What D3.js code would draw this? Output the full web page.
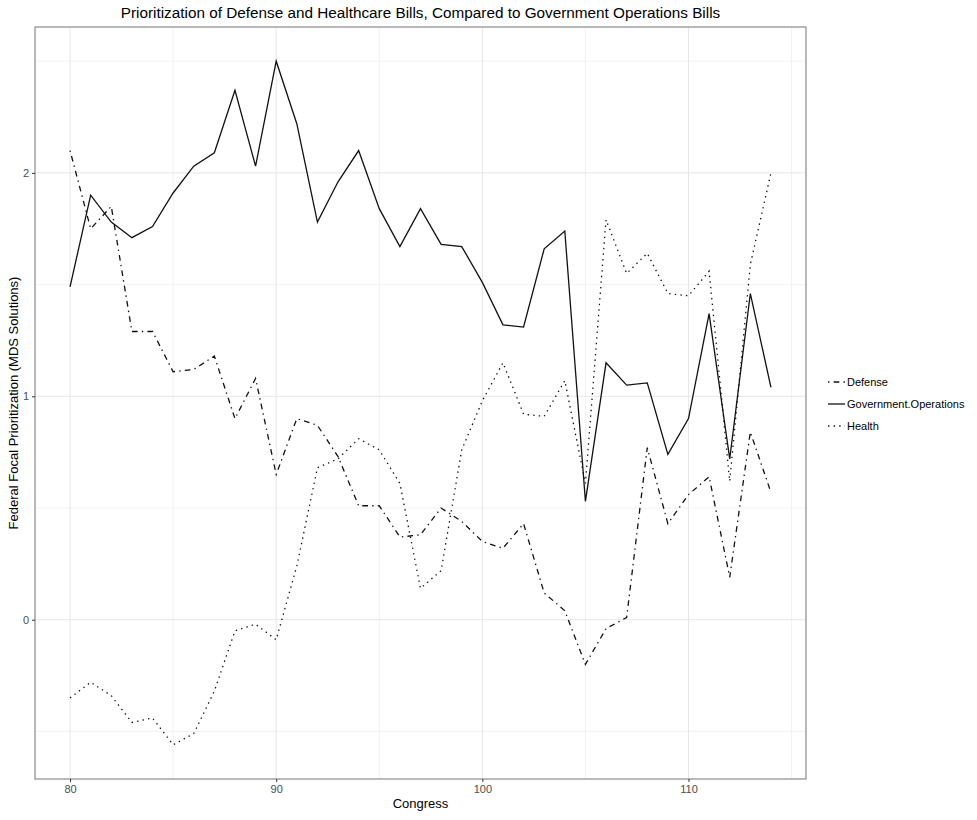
<!DOCTYPE html>
<html>
<head>
<meta charset="utf-8">
<script src="https://cdn.jsdelivr.net/npm/d3@7"></script>
<style>
  body { margin: 0; background: #fff; }
  svg text { font-family: "Liberation Sans", Arial, sans-serif; }
</style>
</head>
<body>
<svg id="chart" width="977" height="820"></svg>
<script>
// congress numbers on the x axis
var congress = [80, 81, 82, 83, 84, 85, 86, 87, 88, 89, 90, 91, 92, 93, 94, 95, 96, 97,
  98, 99, 100, 101, 102, 103, 104, 105, 106, 107, 108, 109, 110, 111, 112, 113, 114];

// MDS solutions
var defense = [2.10, 1.75, 1.85, 1.29, 1.29, 1.11, 1.12, 1.18, 0.90, 1.08, 0.65,
  0.90, 0.87, 0.73, 0.51, 0.51, 0.37, 0.38, 0.50, 0.44, 0.35,
  0.32, 0.43, 0.12, 0.04, -0.20, -0.04, 0.01, 0.77, 0.43, 0.56,
  0.64, 0.19, 0.84, 0.57];
var govOps = [1.49, 1.90, 1.78, 1.71, 1.76, 1.91, 2.03, 2.09, 2.37, 2.03, 2.50,
  2.22, 1.78, 1.96, 2.10, 1.84, 1.67, 1.84, 1.68, 1.67, 1.51,
  1.32, 1.31, 1.66, 1.74, 0.53, 1.15, 1.05, 1.06, 0.74, 0.90,
  1.37, 0.72, 1.46, 1.04];
var health = [-0.35, -0.28, -0.34, -0.46, -0.44, -0.56, -0.51, -0.32, -0.05, -0.02, -0.09,
  0.24, 0.68, 0.72, 0.81, 0.76, 0.61, 0.14, 0.22, 0.76, 0.98,
  1.15, 0.92, 0.91, 1.07, 0.61, 1.79, 1.55, 1.64, 1.46, 1.45,
  1.56, 0.62, 1.59, 2.00];

var seriesNames = ['Defense', 'Government.Operations', 'Health'];
var xTicks = [80, 90, 100, 110];
var xMinor = [85, 95, 105, 115];
var yTicks = [0, 1, 2];
var yMinor = [-0.5, 0.5, 1.5, 2.5];

var titleText = 'Prioritization of Defense and Healthcare Bills, Compared to Government Operations Bills';
var xTitle = 'Congress';
var yTitle = 'Federal Focal Prioritization (MDS Solutions)';

(function () {
  'use strict';

  var margin = { top: 27, right: 171, bottom: 41, left: 35 };
  var width = 977 - margin.left - margin.right;
  var height = 820 - margin.top - margin.bottom;

  var dashes = {
    'Defense': '1.4,4.2,5.7,4.2',
    'Government.Operations': null,
    'Health': '1.4,4.2'
  };
  var values = {
    'Defense': defense,
    'Government.Operations': govOps,
    'Health': health
  };

  var svg = d3.select('#chart');
  var g = svg.append('g')
    .attr('transform', 'translate(' + margin.left + ',' + margin.top + ')');

  // ggplot style padding of 5% on each side
  var xExt = d3.extent(congress);
  var xPad = (xExt[1] - xExt[0]) * 0.05;
  var x = d3.scaleLinear()
    .domain([xExt[0] - xPad, xExt[1] + xPad])
    .range([0, width]);

  var all = defense.concat(govOps, health);
  var yExt = d3.extent(all);
  var yPad = (yExt[1] - yExt[0]) * 0.05;
  var y = d3.scaleLinear()
    .domain([yExt[0] - yPad, yExt[1] + yPad])
    .range([height, 0]);

  // grid
  g.selectAll('.minorx').data(xMinor).enter().append('line')
    .attr('x1', function (d) { return x(d); })
    .attr('x2', function (d) { return x(d); })
    .attr('y1', 0).attr('y2', height)
    .attr('stroke', '#efefef').attr('stroke-width', 0.8);
  g.selectAll('.minory').data(yMinor).enter().append('line')
    .attr('y1', function (d) { return y(d); })
    .attr('y2', function (d) { return y(d); })
    .attr('x1', 0).attr('x2', width)
    .attr('stroke', '#efefef').attr('stroke-width', 0.8);
  g.selectAll('.majorx').data(xTicks).enter().append('line')
    .attr('x1', function (d) { return x(d); })
    .attr('x2', function (d) { return x(d); })
    .attr('y1', 0).attr('y2', height)
    .attr('stroke', '#e6e6e6').attr('stroke-width', 1);
  g.selectAll('.majory').data(yTicks).enter().append('line')
    .attr('y1', function (d) { return y(d); })
    .attr('y2', function (d) { return y(d); })
    .attr('x1', 0).attr('x2', width)
    .attr('stroke', '#e6e6e6').attr('stroke-width', 1);

  // lines
  var line = d3.line()
    .x(function (d, i) { return x(congress[i]); })
    .y(function (d) { return y(d); });

  seriesNames.forEach(function (name) {
    g.append('path')
      .datum(values[name])
      .attr('fill', 'none')
      .attr('stroke', '#111')
      .attr('stroke-width', 1.3)
      .attr('stroke-dasharray', dashes[name])
      .attr('d', line);
  });

  // panel border
  g.append('rect')
    .attr('width', width).attr('height', height)
    .attr('fill', 'none')
    .attr('stroke', '#8a8a8a')
    .attr('stroke-width', 1.2);

  // axes
  var xAxis = g.append('g')
    .attr('transform', 'translate(0,' + height + ')')
    .call(d3.axisBottom(x).tickValues(xTicks).tickFormat(d3.format('d'))
      .tickSize(3).tickPadding(3));
  var yAxis = g.append('g')
    .call(d3.axisLeft(y).tickValues(yTicks).tickFormat(d3.format('d'))
      .tickSize(3).tickPadding(3));
  [xAxis, yAxis].forEach(function (ax) {
    ax.select('.domain').remove();
    ax.selectAll('line').attr('stroke', '#333');
    ax.selectAll('text')
      .attr('fill', '#4d4d4d')
      .style('font-size', '11px')
      .style('font-family', '"Liberation Sans", Arial, sans-serif');
  });

  // titles
  svg.append('text')
    .attr('x', margin.left + width / 2)
    .attr('y', 18)
    .attr('text-anchor', 'middle')
    .attr('fill', '#000')
    .style('font-size', '15.3px')
    .text(titleText);

  svg.append('text')
    .attr('x', margin.left + width / 2)
    .attr('y', 808)
    .attr('text-anchor', 'middle')
    .attr('fill', '#000')
    .style('font-size', '13px')
    .text(xTitle);

  svg.append('text')
    .attr('transform', 'translate(18,' + (margin.top + height / 2) + ') rotate(-90)')
    .attr('text-anchor', 'middle')
    .attr('fill', '#000')
    .style('font-size', '13px')
    .text(yTitle);

  // legend
  var legend = svg.append('g').attr('transform', 'translate(828,382)');
  var item = legend.selectAll('.item').data(seriesNames).enter().append('g')
    .attr('transform', function (d, i) { return 'translate(0,' + (i * 22) + ')'; });
  item.append('line')
    .attr('x1', 0).attr('x2', 17)
    .attr('y1', 0).attr('y2', 0)
    .attr('stroke', '#111')
    .attr('stroke-width', 1.3)
    .attr('stroke-dasharray', function (d) { return dashes[d]; });
  item.append('text')
    .attr('x', 19)
    .attr('y', 4)
    .attr('fill', '#000')
    .style('font-size', '11px')
    .text(function (d) { return d; });
}());
</script>
</body>
</html>
